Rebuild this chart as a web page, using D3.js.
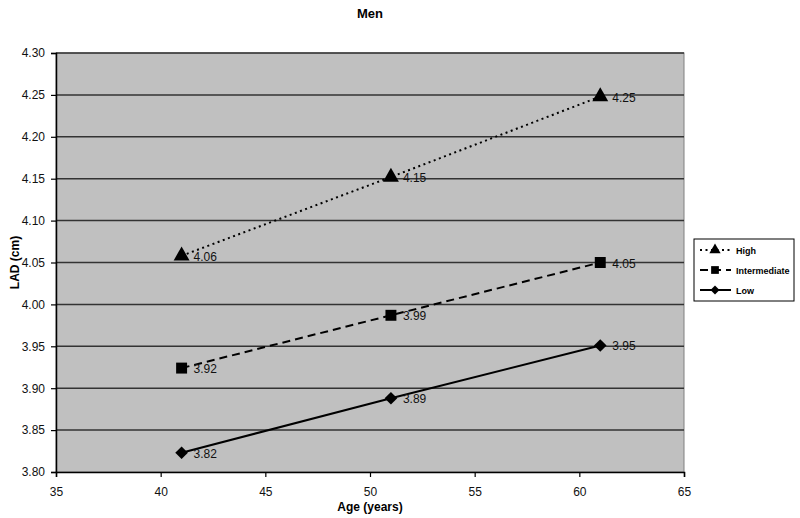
<!DOCTYPE html>
<html>
<head>
<meta charset="utf-8">
<script src="https://cdn.jsdelivr.net/npm/d3@7"></script>
<style>
    body { margin: 0; background: #fff; }
    text { font-family: "Liberation Sans", Arial, sans-serif; }
</style>
</head>
<body>
<svg id="chart" width="800" height="518"></svg>
<script>
// chart data
const ages = [41, 51, 61];
const highValues = [4.058, 4.152, 4.248];
const intermediateValues = [3.924, 3.987, 4.05];
const lowValues = [3.823, 3.888, 3.951];
const seriesNames = ["High", "Intermediate", "Low"];
const xTicks = [35, 40, 45, 50, 55, 60, 65];
const yTicks = [3.8, 3.85, 3.9, 3.95, 4.0, 4.05, 4.1, 4.15, 4.2, 4.25, 4.3];

const series = [
    { name: seriesNames[0], values: highValues, dash: "2,3.5", symbol: d3.symbolTriangle, size: 110, rot: 0 },
    { name: seriesNames[1], values: intermediateValues, dash: "8,5", symbol: d3.symbolSquare, size: 120, rot: 0 },
    { name: seriesNames[2], values: lowValues, dash: null, symbol: d3.symbolSquare, size: 80, rot: 45 },
];

const svg = d3.select("#chart");
const margin = { left: 56, right: 116, top: 53, bottom: 46 };
const width = 800 - margin.left - margin.right,
    height = 518 - margin.top - margin.bottom;

const x = d3.scaleLinear().domain([35, 65]).range([0, width]);
const y = d3.scaleLinear().domain([3.8, 4.3]).range([height, 0]);

const g = svg.append("g")
    .attr("transform", "translate(" + margin.left + "," + margin.top + ")");

// plot background
g.append("rect")
    .attr("width", width)
    .attr("height", height)
    .style("fill", "#c0c0c0")
    .style("stroke", "#808080")
    .style("stroke-width", 1);

// grid lines
g.append("g")
    .selectAll("line")
    .data(yTicks.slice(1))
    .enter()
    .append("line")
    .attr("x1", 0)
    .attr("x2", width)
    .attr("y1", (d) => y(d))
    .attr("y2", (d) => y(d))
    .style("stroke", "#333")
    .style("stroke-width", 1.5);

// axes
const xAxis = g.append("g")
    .attr("transform", "translate(0," + height + ")")
    .call(d3.axisBottom(x).tickValues(xTicks).tickSize(5).tickPadding(10).tickFormat(d3.format("d")));
const yAxis = g.append("g")
    .call(d3.axisLeft(y).tickValues(yTicks).tickSize(5).tickPadding(6).tickFormat(d3.format(".2f")));

[xAxis, yAxis].forEach((a) => {
    a.select(".domain").style("stroke", "#000").style("stroke-width", 1.5);
    a.selectAll(".tick line").style("stroke", "#000").style("stroke-width", 1.2);
    a.selectAll("text")
        .style("font-family", "Liberation Sans, Arial, sans-serif")
        .style("font-size", "12px")
        .style("fill", "#111");
});

// lines and markers
const line = d3.line()
    .x((d, i) => x(ages[i]))
    .y((d) => y(d));

series.forEach((s) => {
    g.append("path")
        .datum(s.values)
        .attr("d", line)
        .style("fill", "none")
        .style("stroke", "#000")
        .style("stroke-width", 2)
        .style("stroke-dasharray", s.dash);

    g.append("g")
        .selectAll("path")
        .data(s.values)
        .enter()
        .append("path")
        .attr("d", d3.symbol().type(s.symbol).size(s.size))
        .attr("transform", (d, i) => "translate(" + x(ages[i]) + "," + y(d) + ")rotate(" + s.rot + ")")
        .style("fill", "#000");

    g.append("g")
        .selectAll("text")
        .data(s.values)
        .enter()
        .append("text")
        .attr("x", (d, i) => x(ages[i]) + 12)
        .attr("y", (d) => y(d) + 5)
        .style("font-size", "12px")
        .style("fill", "#111")
        .text((d) => d.toFixed(2));
});

// title
svg.append("text")
    .attr("x", margin.left + width / 2)
    .attr("y", 18)
    .attr("text-anchor", "middle")
    .style("font-size", "13px")
    .style("font-weight", "bold")
    .text("Men");

// x label
svg.append("text")
    .attr("x", margin.left + width / 2)
    .attr("y", 511)
    .attr("text-anchor", "middle")
    .style("font-size", "12px")
    .style("font-weight", "bold")
    .text("Age (years)");

// y label
svg.append("text")
    .attr("text-anchor", "middle")
    .attr("transform", "translate(19," + (margin.top + height / 2) + ")rotate(-90)")
    .style("font-size", "12px")
    .style("font-weight", "bold")
    .text("LAD (cm)");

// legend
const legend = svg.append("g").attr("transform", "translate(694,239)");
legend.append("rect")
    .attr("width", 100)
    .attr("height", 62)
    .style("fill", "#fff")
    .style("stroke", "#000")
    .style("stroke-width", 1);

series.forEach((s, i) => {
    const row = legend.append("g").attr("transform", "translate(0," + (11 + i * 20) + ")");
    row.append("line")
        .attr("x1", 6)
        .attr("x2", 37)
        .style("stroke", "#000")
        .style("stroke-width", 2)
        .style("stroke-dasharray", s.dash);
    row.append("path")
        .attr("d", d3.symbol().type(s.symbol).size(s.size * 0.5))
        .attr("transform", "translate(21,0)rotate(" + s.rot + ")")
        .style("fill", "#000");
    row.append("text")
        .attr("x", 42)
        .attr("y", 4)
        .style("font-size", "9px")
        .style("font-weight", "bold")
        .text(s.name);
});
</script>
</body>
</html>
